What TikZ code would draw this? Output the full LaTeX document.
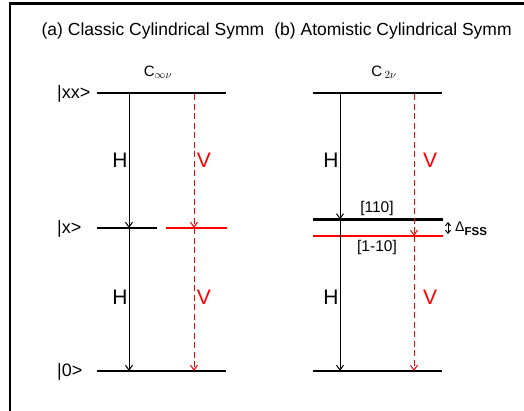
\documentclass[tikz,border=0pt]{standalone}
\usepackage{fontspec}
\setmainfont{Liberation Sans}
\usetikzlibrary{arrows.meta}
\tikzstyle{lvl}=[line width=2.2pt]
\tikzstyle{hpath}=[-{Straight Barb[length=5pt,width=7pt]},line width=1pt]
\tikzstyle{vpath}=[hpath,red,dash pattern=on 6pt off 3.5pt]
\tikzstyle{panel}=[inner sep=0pt,font=\fontsize{17.5}{20}\selectfont]
\tikzstyle{ket}=[inner sep=0pt,anchor=west,font=\fontsize{18}{20}\selectfont]
\tikzstyle{pol}=[inner sep=0pt,font=\fontsize{21}{24}\selectfont]
\tikzstyle{sym}=[inner sep=0pt,font=\fontsize{15}{18}\selectfont]
\tikzstyle{dir}=[inner sep=0pt,font=\fontsize{15.5}{18}\selectfont]
\begin{document}
\begin{tikzpicture}[x=1pt,y=-1pt]
\useasboundingbox (0,0) rectangle (524,410);
%frame
\begin{scope}
\clip (0,0) rectangle (524,410);
\draw[line width=2.5pt] (10,420) -- (10,3.5) -- (530,3.5);
\end{scope}
%titles
\node[panel] (ta) at (153,31) {(a) Classic Cylindrical Symm};
\node[panel] (tb) at (393,31) {(b) Atomistic Cylindrical Symm};
\node[sym] (ca) at (158,72) {C$_{\infty\nu}$};
\node[sym] (cb) at (384,72) {C\,$_{2\nu}$};
%levels (a)
\coordinate (xxAw) at (97,93);   \coordinate (xxAe) at (226,93);
\coordinate (xAw) at (97,228);   \coordinate (xAe) at (157,228);
\coordinate (xAVw) at (166,228); \coordinate (xAVe) at (227,228);
\coordinate (gAw) at (97,371);   \coordinate (gAe) at (226,371);
\draw[lvl] (xxAw) -- (xxAe);
\draw[lvl] (xAw) -- (xAe);
\draw[lvl,red] (xAVw) -- (xAVe);
\draw[lvl] (gAw) -- (gAe);
\node[ket] (kxx) at (57,94) {|xx>};
\node[ket] (kx) at (57,229) {|x>};
\node[ket] (k0) at (57,372) {|0>};
%levels (b)
\coordinate (xxBw) at (313,93);  \coordinate (xxBe) at (442,93);
\coordinate (xBw) at (313,219.5); \coordinate (xBe) at (443,219.5);
\coordinate (xBVw) at (313,236); \coordinate (xBVe) at (443,236);
\coordinate (gBw) at (313,371);  \coordinate (gBe) at (442,371);
\draw[lvl] (xxBw) -- (xxBe);
\draw[lvl] (xBw) -- (xBe);
\draw[lvl,red] (xBVw) -- (xBVe);
\draw[lvl] (gBw) -- (gBe);
\node[dir] (d110) at (377,208) {[110]};
\node[dir] (d1m10) at (377,247) {[1-10]};
%cascades
\coordinate (hA0) at (129,94); \coordinate (hA1) at (129,228); \coordinate (hA2) at (129,371);
\coordinate (vA0) at (194,94); \coordinate (vA1) at (194,228); \coordinate (vA2) at (194,371);
\coordinate (hB0) at (340,94); \coordinate (hB1) at (340,219.5); \coordinate (hB2) at (340,371);
\coordinate (vB0) at (414,94); \coordinate (vB1) at (414,236); \coordinate (vB2) at (414,371);
\draw[hpath] (hA0) -- (hA1);
\draw[hpath] (hA1) -- (hA2);
\draw[vpath] (vA0) -- (vA1);
\draw[vpath] (vA1) -- (vA2);
\draw[hpath] (hB0) -- (hB1);
\draw[hpath] (hB1) -- (hB2);
\draw[vpath] (vB0) -- (vB1);
\draw[vpath] (vB1) -- (vB2);
\node[pol] (hA) at (120,160) {H};
\node[pol] (hAb) at (120,297) {H};
\node[pol,red] (vA) at (204,160) {V};
\node[pol,red] (vAb) at (204,297) {V};
\node[pol] (hB) at (331,160) {H};
\node[pol] (hBb) at (331,297) {H};
\node[pol,red] (vB) at (430,160) {V};
\node[pol,red] (vBb) at (430,297) {V};
%splitting
\coordinate (fssT) at (448,222); \coordinate (fssB) at (448,234);
\draw[{Straight Barb[length=3pt,width=5pt]}-{Straight Barb[length=3pt,width=5pt]},line width=1pt] (fssT) -- (fssB);
\node[inner sep=0pt,anchor=west] (fss) at (455,229) {\fontsize{14}{16}\selectfont Δ\raisebox{-4pt}{\fontsize{11.5}{12}\selectfont\bfseries FSS}};
\end{tikzpicture}
\end{document}
